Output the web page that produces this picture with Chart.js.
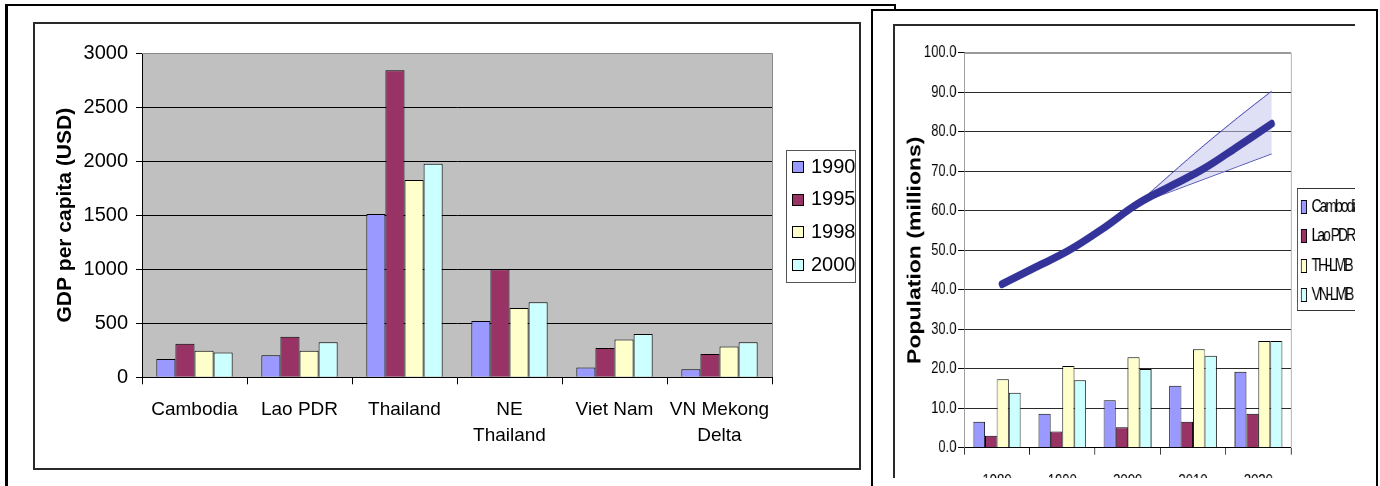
<!DOCTYPE html>
<html>
<head>
<meta charset="utf-8">
<script src="https://cdn.jsdelivr.net/npm/chart.js@4.4.1/dist/chart.umd.min.js"></script>
<style>
  html, body { margin: 0; padding: 0; background: #fff; }
  body { width: 1380px; height: 486px; position: relative; overflow: hidden; }
  .box { position: absolute; box-sizing: border-box; }
  #outerL { left: 5px; top: 4px; width: 891px; height: 520px; border: 2px solid #000; border-left-width: 3px; }
  #innerL { left: 33px; top: 22px; width: 828px; height: 448px; border: 2px solid #2a2a2a; }
  #gdp { position: absolute; left: 35px; top: 24px; }
  #outerR { left: 871px; top: 9px; width: 507px; height: 520px; border: 2px solid #000; background: #fff; }
  #innerR { left: 893px; top: 24px; width: 462px; height: 454px; border-top: 2px solid #2a2a2a; border-left: 2px solid #2a2a2a; overflow: hidden; }
  #pop, #popLine { position: absolute; left: 0; top: 0; transform: scaleX(0.77); transform-origin: 0 0; }
</style>
</head>
<body>
<div class="box" id="outerL"></div>
<div class="box" id="innerL"></div>
<canvas id="gdp" width="824" height="444"></canvas>
<div class="box" id="outerR"></div>
<div class="box" id="innerR">
  <canvas id="pop" width="680" height="500"></canvas>
  <canvas id="popLine" width="680" height="500"></canvas>
</div>

<script>
// ---- GDP per capita (USD) by country / region ----
const gdpCategories = ['Cambodia', 'Lao PDR', 'Thailand', ['NE', 'Thailand'], 'Viet Nam', ['VN Mekong', 'Delta']];
const gdpYears = ['1990', '1995', '1998', '2000'];
const gdp1990 = [170, 205, 1510, 520, 90, 75];
const gdp1995 = [310, 375, 2840, 1000, 270, 215];
const gdp1998 = [245, 245, 1825, 640, 350, 285];
const gdp2000 = [230, 325, 1975, 695, 400, 325];
const gdpTicks = [0, 500, 1000, 1500, 2000, 2500, 3000];

// ---- Population of the basin (millions) ----
const popCategories = ['1980', '1990', '2000', '2010', '2020'];
const popSeriesNames = ['Cambodia', 'Lao PDR', 'TH-LMB', 'VN-LMB'];
const popCambodia = [6.6, 8.6, 12.0, 15.7, 19.2];
const popLao = [3.0, 4.1, 5.2, 6.6, 8.6];
const popTHLMB = [17.3, 20.7, 22.9, 24.9, 27.0];
const popVNLMB = [13.9, 17.1, 19.9, 23.3, 27.0];
const totalYears = [1980, 1985, 1990, 1995, 2000, 2005, 2010, 2015, 2020];
const totalPop = [41.4, 45.7, 50.0, 55.5, 61.6, 66.2, 70.7, 76.3, 82.0];
const rangeYears = [2000, 2005, 2010, 2015, 2020];
const rangeHigh = [61.6, 69.2, 76.6, 83.6, 90.3];
const rangeLow = [61.6, 64.8, 68.0, 71.2, 74.4];
const popTicks = [0, 10, 20, 30, 40, 50, 60, 70, 80, 90, 100];

const barColors = ['#9999FF', '#993366', '#FFFFCC', '#CCFFFF'];

Chart.defaults.font.family = '"Liberation Sans", Arial, Helvetica, sans-serif';
Chart.defaults.color = '#000';

// plot-area background and the thin grey frame on its top/right edges
const plotFrame = {
  id: 'plotFrame',
  beforeDraw(chart, args, o) {
    const { ctx, chartArea: a } = chart;
    if (o.fill) {
      ctx.save();
      ctx.fillStyle = o.fill;
      ctx.fillRect(a.left, a.top, a.right - a.left, a.bottom - a.top);
      ctx.restore();
    }
  },
  afterDraw(chart, args, o) {
    const { ctx, chartArea: a } = chart;
    ctx.save();
    ctx.strokeStyle = o.edge || '#808080';
    ctx.lineWidth = 1;
    ctx.beginPath();
    const r = Math.round(a.right) + 0.5, t = Math.round(a.top) + 0.5;
    ctx.moveTo(Math.round(a.left), t);
    ctx.lineTo(r, t);
    ctx.lineTo(r, Math.round(a.bottom));
    ctx.stroke();
    ctx.restore();
  }
};

// boxed legend listing the bar series
const boxLegend = {
  id: 'boxLegend',
  afterDraw(chart, args, o) {
    const ctx = chart.ctx;
    const items = chart.data.datasets;
    ctx.save();
    ctx.fillStyle = '#fff';
    ctx.fillRect(o.x, o.y, o.w, o.h);
    ctx.strokeStyle = o.border;
    ctx.lineWidth = 1;
    ctx.strokeRect(Math.round(o.x) + 0.5, Math.round(o.y) + 0.5, Math.round(o.w), Math.round(o.h));
    ctx.font = o.font;
    if (o.spacing && 'letterSpacing' in ctx) ctx.letterSpacing = o.spacing;
    ctx.textBaseline = 'middle';
    ctx.textAlign = 'left';
    items.forEach((d, i) => {
      const cy = o.firstY + i * o.step;
      const sy = Math.round(cy - o.swH / 2);
      ctx.fillStyle = d.backgroundColor;
      ctx.fillRect(o.swX, sy, o.swW, o.swH);
      ctx.strokeStyle = '#000';
      ctx.strokeRect(o.swX + 0.5, sy + 0.5, o.swW - 1, o.swH - 1);
      ctx.fillStyle = '#000';
      ctx.fillText(d.label, o.textX, cy);
    });
    ctx.restore();
  }
};

// ---------------- GDP chart ----------------
const gdpSeries = [gdp1990, gdp1995, gdp1998, gdp2000];
new Chart(document.getElementById('gdp'), {
  type: 'bar',
  data: {
    labels: gdpCategories,
    datasets: gdpYears.map((y, i) => ({
      label: y,
      data: gdpSeries[i],
      backgroundColor: barColors[i],
      borderColor: '#000',
      borderWidth: 1,
      categoryPercentage: 0.727,
      barPercentage: 1
    }))
  },
  options: {
    responsive: false,
    animation: false,
    events: [],
    devicePixelRatio: 1,
    layout: { padding: { top: 29, right: 87, left: 0, bottom: 0 } },
    plugins: {
      legend: { display: false },
      tooltip: { enabled: false },
      plotFrame: { fill: '#C0C0C0', edge: '#8a8a8a' },
      boxLegend: {
        x: 751, y: 126, w: 69, h: 132, border: '#555',
        swX: 757, swW: 12, swH: 12, firstY: 143, step: 32.7,
        textX: 776, font: '20px "Liberation Sans", Arial, sans-serif'
      }
    },
    scales: {
      x: {
        offset: true,
        grid: { offset: true, drawOnChartArea: false, drawTicks: true, tickLength: 7, color: '#000' },
        border: { color: '#000', width: 1 },
        ticks: { font: { size: 19, lineHeight: 1.4 }, color: '#000', padding: 12, maxRotation: 0, autoSkip: false },
        afterFit(s) { s.height = 90.7; }
      },
      y: {
        min: 0, max: 3000,
        afterBuildTicks(s) { s.ticks = gdpTicks.map(v => ({ value: v })); },
        grid: {
          color: c => (c.tick && c.tick.value === 3000) ? '#8a8a8a' : '#000',
          tickColor: '#000', tickLength: 6
        },
        border: { color: '#000', width: 1 },
        ticks: { font: { size: 20 }, color: '#000', padding: 8, callback: v => String(v) },
        title: {
          display: true, text: 'GDP per capita (USD)', color: '#000',
          font: { size: 21, weight: 'bold' }, padding: { top: 18, bottom: 0 }
        },
        afterFit(s) { s.width = 107; }
      }
    }
  },
  plugins: [plotFrame, boxLegend]
});

// ---------------- Population chart: bars, axes and legend ----------------
// shared plot box (canvas units) for the bar layer and the trend layer
const popArea = { left: 90, top: 26.7, right: 165.7, bottom: 78.3 };

const popSeries = [popCambodia, popLao, popTHLMB, popVNLMB];
new Chart(document.getElementById('pop'), {
  type: 'bar',
  data: {
    labels: popCategories,
    datasets: popSeriesNames.map((n, i) => ({
      label: n,
      data: popSeries[i],
      backgroundColor: barColors[i],
      borderColor: '#000',
      borderWidth: 1,
      categoryPercentage: 0.727,
      barPercentage: 1
    }))
  },
  options: {
    responsive: false,
    animation: false,
    events: [],
    devicePixelRatio: 1,
    layout: { padding: { top: popArea.top, right: popArea.right, left: 0, bottom: 0 } },
    plugins: {
      legend: { display: false },
      tooltip: { enabled: false },
      plotFrame: { fill: null, edge: '#9a9a9a' },
      boxLegend: {
        x: 521.7, y: 161.7, w: 200, h: 122, border: '#333',
        swX: 527, swW: 8, swH: 14, firstY: 181, step: 29.3,
        textX: 541, font: '18px "Liberation Sans", Arial, sans-serif', spacing: '-2.5px'
      }
    },
    scales: {
      x: {
        offset: true,
        grid: { offset: true, drawOnChartArea: false, drawTicks: true, tickLength: 7, color: '#000' },
        border: { color: '#000', width: 1 },
        ticks: { font: { size: 17 }, color: '#000', padding: 16, maxRotation: 0, autoSkip: false },
        afterFit(s) { s.height = popArea.bottom; }
      },
      y: {
        min: 0, max: 100,
        afterBuildTicks(s) { s.ticks = popTicks.map(v => ({ value: v })); },
        grid: {
          color: c => (c.tick && c.tick.value === 100) ? '#9a9a9a' : '#2a2a2a',
          tickColor: '#000', tickLength: 8
        },
        border: { color: '#808080', width: 1 },
        ticks: { font: { size: 17 }, color: '#000', padding: 2, callback: v => v.toFixed(1) },
        title: {
          display: true, text: 'Population (millions)', color: '#000',
          font: { size: 23, weight: 'bold' }, padding: { top: 12.8, bottom: 0 }
        },
        afterFit(s) { s.width = popArea.left; }
      }
    }
  },
  plugins: [plotFrame, boxLegend]
});

// ---------------- Population chart: total trend with projection range ----------------
new Chart(document.getElementById('popLine'), {
  type: 'line',
  data: {
    datasets: [
      {
        label: 'Total',
        data: totalYears.map((x, i) => ({ x, y: totalPop[i] })),
        borderColor: '#333399', borderWidth: 8, borderCapStyle: 'round',
        borderJoinStyle: 'round', pointRadius: 0, tension: 0.4, fill: false, order: 0
      },
      {
        label: 'High',
        data: rangeYears.map((x, i) => ({ x, y: rangeHigh[i] })),
        borderColor: '#3a3aa8', borderWidth: 1, pointRadius: 0,
        tension: 0.3, fill: '+1', backgroundColor: 'rgba(196, 196, 236, 0.55)', order: 1
      },
      {
        label: 'Low',
        data: rangeYears.map((x, i) => ({ x, y: rangeLow[i] })),
        borderColor: '#3a3aa8', borderWidth: 1, pointRadius: 0,
        tension: 0.3, fill: false, order: 1
      }
    ]
  },
  options: {
    responsive: false,
    animation: false,
    events: [],
    devicePixelRatio: 1,
    layout: { padding: popArea },
    plugins: { legend: { display: false }, tooltip: { enabled: false } },
    scales: {
      x: { type: 'linear', display: false, min: 1974.45, max: 2022.86 },
      y: { type: 'linear', display: false, min: 0, max: 100 }
    }
  }
});
</script>
</body>
</html>
